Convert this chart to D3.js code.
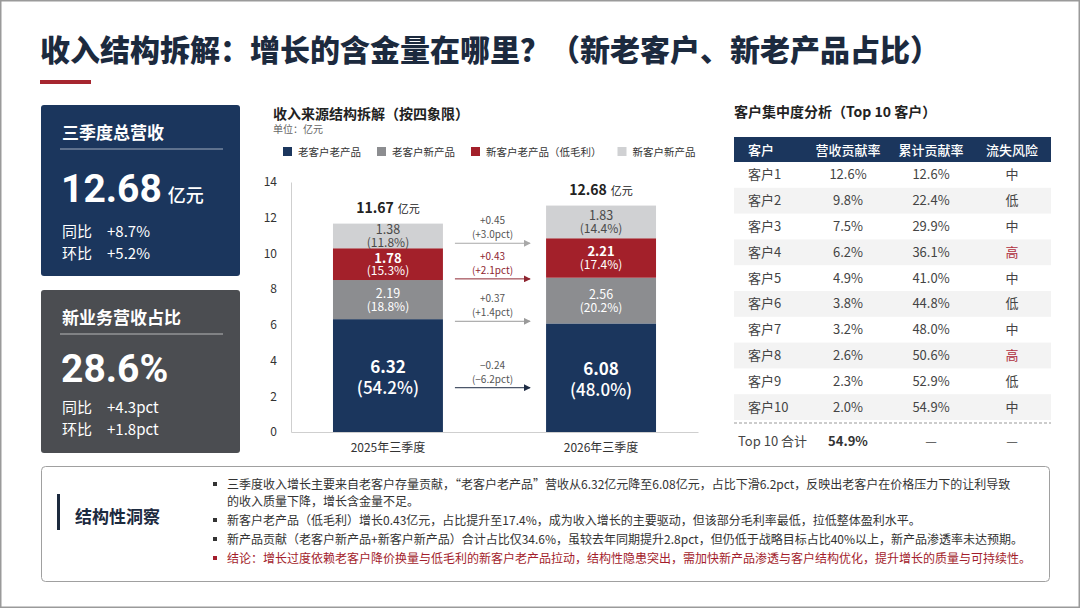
<!DOCTYPE html>
<html>
<head>
<meta charset="utf-8">
<script src="https://cdn.jsdelivr.net/npm/d3@7"></script>
<style>
  body { margin: 0; background: #fff; }
  svg { display: block; font-family: "Noto Sans CJK SC", "Noto Sans", sans-serif; }
</style>
</head>
<body>
<div id="chart"></div>
<script>
// ---- data ----
var categories = ["2025年三季度", "2026年三季度"];
var seriesNames = ["老客户老产品", "老客户新产品", "新客户老产品（低毛利）", "新客户新产品"];
var oldCustOldProd = [6.32, 6.08];
var oldCustNewProd = [2.19, 2.56];
var newCustOldProd = [1.78, 2.21];
var newCustNewProd = [1.38, 1.83];
var shareOldOld = [54.2, 48.0];
var shareOldNew = [18.8, 20.2];
var shareNewOld = [15.3, 17.4];
var shareNewNew = [11.8, 14.4];
var pctChange = [-6.2, 1.4, 2.1, 3.0];   // as printed on the arrows
var totals = [11.67, 12.68];
var yTicks = [0, 2, 4, 6, 8, 10, 12, 14];

var tableHeader = ["客户", "营收贡献率", "累计贡献率", "流失风险"];
var customers = ["客户1", "客户2", "客户3", "客户4", "客户5", "客户6", "客户7", "客户8", "客户9", "客户10"];
var revShare = [12.6, 9.8, 7.5, 6.2, 4.9, 3.8, 3.2, 2.6, 2.3, 2.0];
var cumShare = [12.6, 22.4, 29.9, 36.1, 41.0, 44.8, 48.0, 50.6, 52.9, 54.9];
var churnRisk = ["中", "低", "中", "高", "中", "低", "中", "高", "低", "中"];
var topTotal = 54.9;

var insights = [
  ["三季度收入增长主要来自老客户存量贡献，“老客户老产品”营收从6.32亿元降至6.08亿元，占比下滑6.2pct，反映出老客户在价格压力下的让利导致", "的收入质量下降，增长含金量不足。"],
  ["新客户老产品（低毛利）增长0.43亿元，占比提升至17.4%，成为收入增长的主要驱动，但该部分毛利率最低，拉低整体盈利水平。"],
  ["新产品贡献（老客户新产品+新客户新产品）合计占比仅34.6%，虽较去年同期提升2.8pct，但仍低于战略目标占比40%以上，新产品渗透率未达预期。"],
  ["结论：增长过度依赖老客户降价换量与低毛利的新客户老产品拉动，结构性隐患突出，需加快新产品渗透与客户结构优化，提升增长的质量与可持续性。"]
];

var navy = "#1b365d", red = "#a3202a", midGray = "#8c8d90", lightGray = "#d0d1d3", ink = "#1c2a3e";
var colors = [navy, midGray, red, lightGray];
var arrowColors = ["#1f2d45", "#9a9a9a", "#8e2530", "#a8a8a8"];

var svg = d3.select("#chart").append("svg")
  .attr("width", 1080).attr("height", 608);

svg.append("rect").attr("x", 0.75).attr("y", 0.75).attr("width", 1078.5).attr("height", 606.5)
  .attr("fill", "#fff").attr("stroke", "#9a9a9a").attr("stroke-width", 1.5);

// ---- title ----
svg.append("text").attr("x", 40).attr("y", 61)
  .attr("font-size", 30).attr("font-weight", 900).attr("fill", ink)
  .text("收入结构拆解：增长的含金量在哪里？（新老客户、新老产品占比）");
svg.append("rect").attr("x", 40).attr("y", 80).attr("width", 51).attr("height", 4).attr("fill", "#a6262f");

// ---- KPI cards ----
function card(y0, h, fill, title, big, unit, bigY, lineY, lines) {
  var g = svg.append("g");
  g.append("rect").attr("x", 41).attr("y", y0).attr("width", 199).attr("height", h).attr("rx", 3).attr("fill", fill);
  g.append("text").attr("x", 62).attr("y", y0 + 34).attr("font-size", 17).attr("font-weight", 700)
    .attr("fill", "#fff").text(title);
  g.append("line").attr("x1", 60).attr("x2", 223).attr("y1", y0 + 44).attr("y2", y0 + 44)
    .attr("stroke", "#fff").attr("stroke-opacity", 0.6);
  var t = g.append("text").attr("x", 61).attr("y", y0 + bigY).attr("fill", "#fff");
  t.append("tspan").attr("font-family", "Roboto").attr("font-size", 39).attr("font-weight", 700).text(big);
  if (unit) t.append("tspan").attr("dx", 6).attr("font-size", 18).attr("font-weight", 500).text(unit);
  lines.forEach(function (l, i) {
    var r = g.append("text").attr("y", y0 + lineY + i * 22).attr("font-size", 15).attr("fill", "#fff");
    r.append("tspan").attr("x", 62).text(l[0]);
    r.append("tspan").attr("x", 107).text(l[1]);
  });
}
card(105, 171, navy, "三季度总营收", "12.68", "亿元", 97, 132, [["同比", "+8.7%"], ["环比", "+5.2%"]]);
card(290, 163, "#4b4d51", "新业务营收占比", "28.6%", null, 92, 123, [["同比", "+4.3pct"], ["环比", "+1.8pct"]]);

// ---- stacked bar chart ----
svg.append("text").attr("x", 273).attr("y", 119).attr("font-size", 14).attr("font-weight", 700)
  .attr("fill", "#222").text("收入来源结构拆解（按四象限）");
svg.append("text").attr("x", 273).attr("y", 133).attr("font-size", 10).attr("fill", "#666").text("单位：亿元");

// legend
var lx = 283;
seriesNames.forEach(function (name, i) {
  svg.append("rect").attr("x", lx).attr("y", 147).attr("width", 9).attr("height", 9).attr("fill", colors[i]);
  var t = svg.append("text").attr("x", lx + 15).attr("y", 155.5).attr("font-size", 10.5).attr("fill", "#333").text(name);
  lx += 15 + t.node().getComputedTextLength() + 16;
});

var values = [oldCustOldProd, oldCustNewProd, newCustOldProd, newCustNewProd];
var shares = [shareOldOld, shareOldNew, shareNewOld, shareNewNew];
var rows = categories.map(function (c, j) {
  var r = { cat: c };
  values.forEach(function (v, i) { r["s" + i] = v[j]; });
  return r;
});
var stack = d3.stack().keys(["s0", "s1", "s2", "s3"])(rows);

var x = d3.scaleBand().domain(categories).range([291, 698]).paddingInner(0.484).paddingOuter(0.197);
var y = d3.scaleLinear().domain([0, 14]).range([432, 182]);

var yAxis = svg.append("g").attr("transform", "translate(291,0)")
  .call(d3.axisLeft(y).tickValues(yTicks).tickSize(0).tickPadding(14));
yAxis.select(".domain").attr("stroke", "#cfcfcf");
yAxis.selectAll("text").attr("font-size", 12).attr("fill", "#333").attr("font-family", "Noto Sans CJK SC");

var xAxis = svg.append("g").attr("transform", "translate(0,432)")
  .call(d3.axisBottom(x).tickSize(0).tickPadding(11).tickSizeOuter(0));
xAxis.select(".domain").attr("stroke", "#cfcfcf");
xAxis.selectAll("text").attr("font-size", 12).attr("fill", "#333").attr("font-family", "Noto Sans CJK SC");

stack.forEach(function (layer, i) {
  svg.append("g").selectAll("rect").data(layer).enter().append("rect")
    .attr("x", function (d) { return x(d.data.cat); })
    .attr("y", function (d) { return y(d[1]); })
    .attr("width", x.bandwidth())
    .attr("height", function (d) { return y(d[0]) - y(d[1]); })
    .attr("fill", colors[i]);

  layer.forEach(function (d, j) {
    var cx = x(d.data.cat) + x.bandwidth() / 2;
    var cy = (y(d[0]) + y(d[1])) / 2;
    var big = i === 0;
    var fs = big ? 17 : 12;
    var col = i === 3 ? "#4a4a4a" : "#fff";
    var t = svg.append("text").attr("text-anchor", "middle").attr("fill", col).attr("font-size", fs);
    t.append("tspan").attr("x", cx).attr("y", cy + (big ? -3 : -1.5))
      .attr("font-size", big ? 17 : (i === 2 ? 13 : 12.5))
      .attr("font-weight", (i === 0 || i === 2) ? 700 : 400).text(values[i][j].toFixed(2));
    t.append("tspan").attr("x", cx).attr("y", cy + (big ? 18 : 11))
      .attr("font-weight", i === 0 ? 500 : 400).text("(" + shares[i][j].toFixed(1) + "%)");
  });
});

// totals
totals.forEach(function (v, j) {
  var t = svg.append("text").attr("x", x(categories[j]) + x.bandwidth() / 2)
    .attr("y", y(v) - 11).attr("text-anchor", "middle").attr("fill", "#222");
  t.append("tspan").attr("font-size", 14).attr("font-weight", 700).text(v.toFixed(2));
  t.append("tspan").attr("dx", 4).attr("font-size", 11).text("亿元");
});

// change arrows between bars
var defs = svg.append("defs");
arrowColors.forEach(function (c, i) {
  defs.append("marker").attr("id", "ah" + i).attr("viewBox", "0 0 10 10")
    .attr("refX", 9).attr("refY", 5).attr("markerWidth", 7).attr("markerHeight", 7)
    .attr("markerUnits", "userSpaceOnUse").attr("orient", "auto")
    .append("path").attr("d", "M0,0L10,5L0,10Z").attr("fill", c);
});
var ax0 = x(categories[0]) + x.bandwidth() + 12;
var ax1 = x(categories[1]) - 16;
var fmtV = d3.format("+.2f"), fmtP = d3.format("+.1f");
stack.forEach(function (layer, i) {
  var lvl = i === 0 ? d3.mean(values[0]) * 0.4 : d3.mean(layer, function (d) { return d[0]; });
  var ay = y(lvl);
  svg.append("line").attr("x1", ax0).attr("x2", ax1).attr("y1", ay).attr("y2", ay)
    .attr("stroke", arrowColors[i]).attr("stroke-width", 1).attr("marker-end", "url(#ah" + i + ")");
  var tc = i === 2 ? "#8e2530" : "#555";
  var mx = (ax0 + ax1) / 2;
  svg.append("text").attr("x", mx).attr("y", ay - 19).attr("text-anchor", "middle")
    .attr("font-size", 10).attr("fill", tc).text(fmtV(values[i][1] - values[i][0]));
  svg.append("text").attr("x", mx).attr("y", ay - 5).attr("text-anchor", "middle")
    .attr("font-size", 10).attr("fill", tc).text("(" + fmtP(pctChange[i]) + "pct)");
});

// ---- customer table ----
svg.append("text").attr("x", 734).attr("y", 117).attr("font-size", 14).attr("font-weight", 700)
  .attr("fill", "#222").text("客户集中度分析（Top 10 客户）");

var colX = [748, 848, 931, 1012];
svg.append("rect").attr("x", 734).attr("y", 137).attr("width", 317).attr("height", 25).attr("fill", navy);
tableHeader.forEach(function (h, k) {
  svg.append("text").attr("x", colX[k]).attr("y", 154.5).attr("text-anchor", k === 0 ? "start" : "middle")
    .attr("font-size", 13).attr("font-weight", 500).attr("fill", "#fff").text(h);
});

var rowH = 25.8, top0 = 162;
var rowY = d3.scaleLinear().domain([0, 1]).range([top0, top0 + rowH]);
customers.forEach(function (c, r) {
  if (r % 2 === 1) {
    svg.append("rect").attr("x", 734).attr("y", rowY(r)).attr("width", 317).attr("height", rowH).attr("fill", "#f3f3f3");
  }
  var by = rowY(r) + rowH / 2 + 4.5;
  var cells = [c, revShare[r].toFixed(1) + "%", cumShare[r].toFixed(1) + "%", churnRisk[r]];
  cells.forEach(function (v, k) {
    svg.append("text").attr("x", colX[k]).attr("y", by).attr("text-anchor", k === 0 ? "start" : "middle")
      .attr("font-size", 13).attr("fill", (k === 3 && v === "高") ? "#b0303f" : "#444").text(v);
  });
});
var dashY = rowY(customers.length) + 3;
svg.append("line").attr("x1", 734).attr("x2", 1051).attr("y1", dashY).attr("y2", dashY)
  .attr("stroke", "#999").attr("stroke-dasharray", "3,2");
var totY = dashY + 23;
svg.append("text").attr("x", 738).attr("y", totY).attr("font-size", 13).attr("fill", "#444").text("Top 10 合计");
svg.append("text").attr("x", colX[1]).attr("y", totY).attr("text-anchor", "middle").attr("font-size", 13)
  .attr("font-weight", 700).attr("fill", "#333").text(topTotal.toFixed(1) + "%");
svg.append("text").attr("x", colX[2]).attr("y", totY).attr("text-anchor", "middle").attr("font-size", 13).attr("fill", "#444").text("—");
svg.append("text").attr("x", colX[3]).attr("y", totY).attr("text-anchor", "middle").attr("font-size", 13).attr("fill", "#444").text("—");

// ---- insight box ----
svg.append("rect").attr("x", 41.5).attr("y", 466.5).attr("width", 1008).attr("height", 115).attr("rx", 4)
  .attr("fill", "#fff").attr("stroke", "#a0a0a0");
svg.append("rect").attr("x", 57).attr("y", 494).attr("width", 3).attr("height", 36).attr("fill", ink);
svg.append("text").attr("x", 75).attr("y", 523).attr("font-size", 17).attr("font-weight", 700)
  .attr("fill", ink).text("结构性洞察");

var lineY = 489;
insights.forEach(function (para, p) {
  var col = p === insights.length - 1 ? "#a31d2c" : "#333";
  svg.append("rect").attr("x", 213).attr("y", lineY - 7).attr("width", 4).attr("height", 4).attr("fill", col);
  para.forEach(function (ln, k) {
    svg.append("text").attr("x", 227).attr("y", lineY).attr("font-size", 12).attr("fill", col).text(ln);
    lineY += k < para.length - 1 ? 17 : 19;
  });
});
</script>
</body>
</html>
